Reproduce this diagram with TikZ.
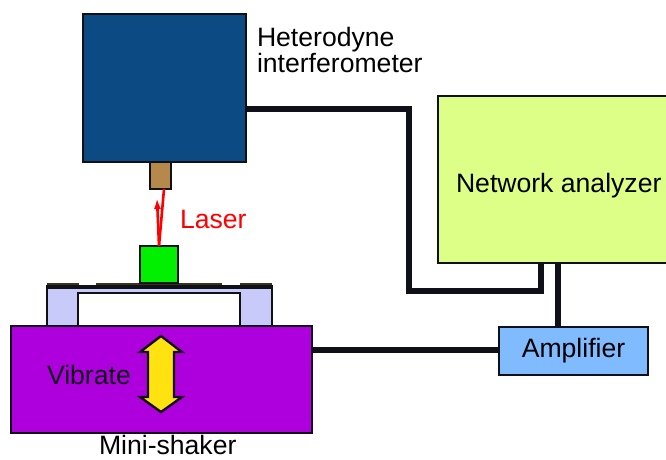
\documentclass[tikz,border=0pt]{standalone}
\usepackage{fontspec}
\setmainfont{Liberation Sans}
\usetikzlibrary{arrows.meta}
\definecolor{ifmblue}{HTML}{0B4A82}
\definecolor{tipbrown}{HTML}{B5894C}
\definecolor{samplegreen}{HTML}{00F000}
\definecolor{lav}{HTML}{C8CBFA}
\definecolor{shaker}{HTML}{AD00DC}
\definecolor{yel}{HTML}{FFE210}
\definecolor{ampblue}{HTML}{80BAFF}
\definecolor{netgreen}{HTML}{DDFF88}
\definecolor{lineblack}{HTML}{101018}
\definecolor{padolive}{HTML}{35351C}
\tikzset{
  x=1pt,y=-1pt,
  blockbox/.style={draw=lineblack,line width=2.6pt,inner sep=0pt,outer sep=0pt,rectangle,font=\fontsize{26.6}{26.6}\selectfont},
  thinbox/.style={blockbox,line width=2pt},
  cable/.style={draw=lineblack,line width=5.2pt,line cap=butt,line join=miter},
  lab/.style={inner sep=0pt,outer sep=0pt,font=\fontsize{26.6}{26.6}\selectfont,text=#1},
  lab/.default=black,
  beam/.style={draw=red,line width=2.6pt},
  platebar/.style={draw=none,fill=#1,inner sep=0pt},
}
\begin{document}
\begin{tikzpicture}
\useasboundingbox (0,0) rectangle (666,459);
\clip (0,0) rectangle (666,459);
% supports
\node[thinbox,fill=lav,minimum width=225pt,minimum height=38pt] (support) at (159.5,307) {};
\node[thinbox,fill=white,minimum width=162pt,minimum height=34pt] (cavity) at (159,310) {};
% plate and pads
\node[platebar=padolive,minimum width=32pt,minimum height=3pt] (padl) at (62.5,284.5) {};
\node[platebar=padolive,minimum width=126pt,minimum height=3pt] (padm) at (159,284.5) {};
\node[platebar=padolive,minimum width=32pt,minimum height=3pt] (padr) at (256,284.5) {};
\node[platebar=lineblack,minimum width=227pt,minimum height=4.4pt] (plate) at (159.5,287.2) {};
% main blocks
\node[blockbox,fill=ifmblue,minimum width=163pt,minimum height=148pt] (ifm) at (164.5,88) {};
\node[blockbox,fill=tipbrown,minimum width=21pt,minimum height=27pt] (tip) at (160.5,175.5) {};
\node[thinbox,fill=samplegreen,minimum width=38pt,minimum height=37pt] (sample) at (159,264.5) {};
\node[blockbox,fill=shaker,minimum width=301pt,minimum height=107pt] (shaker) at (161.5,379.5) {};
\node[thinbox,fill=netgreen,minimum width=240pt,minimum height=167pt,text width=240pt] (net) at (558,179.5) {};
\node[blockbox,fill=ampblue,minimum width=149pt,minimum height=48pt] (amp) at (573.5,351) {Amplifier};
% cables
\draw[cable] (ifm.east |- 0,109) -| (409,291) -| (541,263);
\draw[cable] (net.south -| 558,0) -- (amp.north -| 558,0);
\draw[cable] (shaker.east |- 0,350) -- (amp.west |- 0,350);
% laser
\coordinate (spot) at (sample.north);
\coordinate (beamout) at (164,189);
\coordinate (beamtip) at (157,198);
\draw[beam] (beamout) -- (spot);
\draw[beam,-{Latex[length=11pt,width=7pt]}] (spot) -- (beamtip);
% double arrow
\draw[lineblack,line width=2.4pt,fill=yel,line join=miter]
  (161,336) -- (182,352) -- (174,352) -- (174,397) -- (182,397) -- (161,412)
  -- (140,397) -- (148,397) -- (148,352) -- (140,352) -- cycle;
% labels
\node[lab,anchor=base west] (l1) at (257,46) {Heterodyne};
\node[lab,anchor=base west] (l2) at (257,72) {interferometer};
\node[lab=red,anchor=base west] (l3) at (180,228) {Laser};
\node[lab,anchor=base west] (l4) at (456,192) {Network analyzer};
\node[lab=lineblack,anchor=base west] (l5) at (47,384) {Vibrate};
\node[lab,anchor=base west] (l6) at (99,454) {Mini-shaker};
\end{tikzpicture}
\end{document}
